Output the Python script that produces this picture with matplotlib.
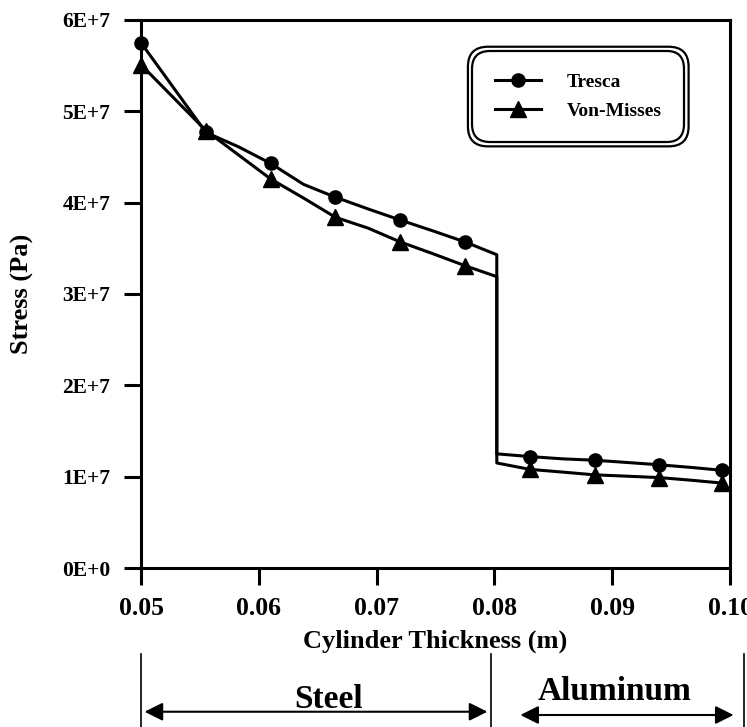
import matplotlib
matplotlib.use('Agg')
import matplotlib.pyplot as plt
from matplotlib.patches import FancyBboxPatch
from matplotlib.transforms import blended_transform_factory

plt.rcParams['font.family'] = ['Liberation Serif', 'DejaVu Serif']
plt.rcParams['font.weight'] = 'bold'

# thickness (m): steel part, drop at the interface, then aluminum part
thickness = [0.05, 0.0555, 0.0583, 0.061, 0.0638, 0.0665, 0.0693, 0.072,
             0.0748, 0.0775, 0.0802,
             0.0802, 0.083, 0.0858, 0.0885, 0.0913, 0.094, 0.0968, 0.0993]
tresca = [5.75e7, 4.77e7, 4.61e7, 4.43e7, 4.20e7, 4.06e7, 3.93e7, 3.81e7,
          3.69e7, 3.57e7, 3.43e7,
          1.25e7, 1.22e7, 1.195e7, 1.18e7, 1.155e7, 1.13e7, 1.10e7, 1.07e7]
von_misses = [5.51e7, 4.79e7, 4.52e7, 4.26e7, 4.05e7, 3.84e7, 3.72e7, 3.57e7,
              3.44e7, 3.31e7, 3.19e7,
              1.15e7, 1.08e7, 1.05e7, 1.02e7, 1.005e7, 0.99e7, 0.96e7, 0.93e7]
marker_idx = [0, 1, 3, 5, 7, 9, 12, 14, 16, 18]

xticks = [0.05, 0.06, 0.07, 0.08, 0.09, 0.10]
xtick_labels = ['0.05', '0.06', '0.07', '0.08', '0.09', '0.10']
yticks = [0, 1e7, 2e7, 3e7, 4e7, 5e7, 6e7]
ytick_labels = ['0E+0', '1E+7', '2E+7', '3E+7', '4E+7', '5E+7', '6E+7']

# material zones below the axis
steel_zone = (0.0503, 0.0794)
alum_zone = (0.0822, 0.1003)
zone_edges = [0.05, 0.0797, 0.1012]

fig = plt.figure(figsize=(7.47, 7.27), dpi=100)
ax = fig.add_axes([0.1888, 0.2187, 0.7885, 0.7538])

ax.plot(thickness, tresca, color='black', lw=2.2, marker='o', ms=9.5,
        markevery=marker_idx, label='Tresca', clip_on=False, zorder=3)
ax.plot(thickness, von_misses, color='black', lw=2.2, marker='^', ms=11.5,
        markevery=marker_idx, label='Von-Misses', clip_on=False, zorder=4)

ax.set_xlim(0.05, 0.10)
ax.set_ylim(0, 6e7)
ax.set_xticks(xticks)
ax.set_xticklabels(xtick_labels, fontsize=18.5, fontweight='bold')
ax.set_yticks(yticks)
ax.set_yticklabels(ytick_labels, fontsize=15.5, fontweight='bold')
ax.tick_params(axis='x', direction='out', length=12, width=2.2, pad=9)
ax.tick_params(axis='y', direction='out', length=12, width=2.2, pad=10)
for s in ax.spines.values():
    s.set_linewidth(2.2)

ax.set_xlabel('Cylinder Thickness (m)', fontsize=19, fontweight='bold')
ax.set_ylabel('Stress (Pa)', fontsize=19, fontweight='bold')
ax.xaxis.set_label_coords(0.5, -0.112)
ax.yaxis.set_label_coords(-0.181, 0.5)

leg = ax.legend(loc='upper right', bbox_to_anchor=(0.922, 0.943),
                borderaxespad=0,
                prop={'family': 'Liberation Serif', 'weight': 'bold', 'size': 14},
                handlelength=2.4, handletextpad=1.3, labelspacing=0.55,
                borderpad=1.15, framealpha=1, edgecolor='black')
frame = leg.get_frame()
frame.set_boxstyle('round', pad=0, rounding_size=0.9)
frame.set_linewidth(1.6)

fig.canvas.draw()
bb = frame.get_window_extent()
outer = FancyBboxPatch((bb.x0, bb.y0), bb.width, bb.height,
                       boxstyle='round,pad=4.5,rounding_size=20',
                       transform=None, fill=False, ec='black', lw=1.6,
                       zorder=6)
fig.add_artist(outer)

# Steel / Aluminum zones under the x axis
tr = blended_transform_factory(ax.transData, fig.transFigure)
for xe in zone_edges:
    ax.plot([xe, xe], [0.0, 0.100], transform=tr, color='black', lw=1.2,
            clip_on=False)
ax.annotate('', xy=(steel_zone[1], 0.021), xytext=(steel_zone[0], 0.021),
            xycoords=tr, textcoords=tr,
            arrowprops=dict(arrowstyle='<|-|>,head_length=1.1,head_width=0.55',
                            mutation_scale=10, color='black', lw=1.5,
                            shrinkA=0, shrinkB=0))
ax.annotate('', xy=(alum_zone[1], 0.0165), xytext=(alum_zone[0], 0.0165),
            xycoords=tr, textcoords=tr,
            arrowprops=dict(arrowstyle='<|-|>,head_length=1.1,head_width=0.55',
                            mutation_scale=10, color='black', lw=1.5,
                            shrinkA=0, shrinkB=0))
ax.text(0.0659, 0.026, 'Steel', transform=tr, ha='center', va='baseline',
        fontsize=24, fontweight='bold')
ax.text(0.0902, 0.037, 'Aluminum', transform=tr, ha='center', va='baseline',
        fontsize=24, fontweight='bold')

fig.savefig('out.png', dpi=100)
